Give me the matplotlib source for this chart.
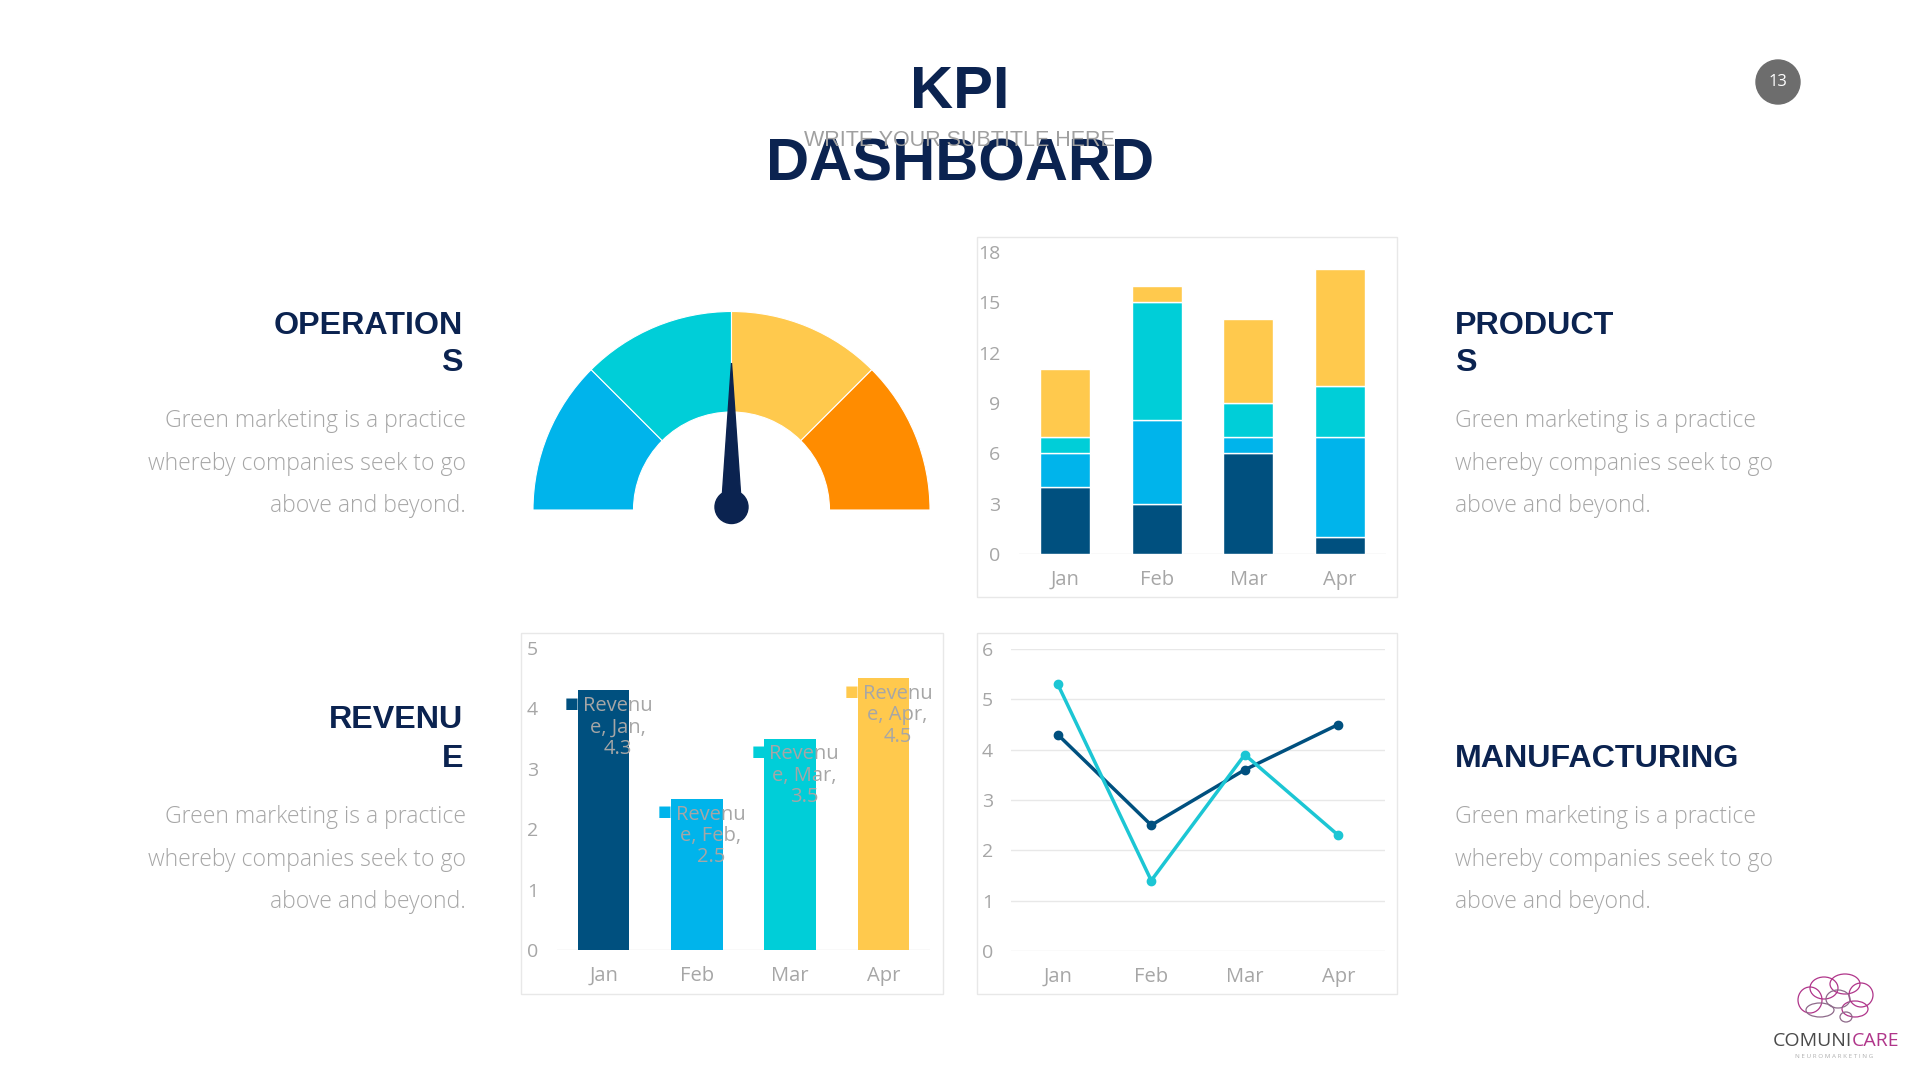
import matplotlib
matplotlib.use("Agg")
import matplotlib.pyplot as plt
from matplotlib.patches import Wedge, Circle, Rectangle, Polygon, Ellipse
import numpy as np

# -----------------------------
# Data
# -----------------------------
months = ["Jan", "Feb", "Mar", "Apr"]

# stacked "products" chart (four series, bottom to top)
prod_series1 = [4, 3, 6, 1]
prod_series2 = [2, 5, 1, 6]
prod_series3 = [1, 7, 2, 3]
prod_series4 = [4, 1, 5, 7]
prod_yticks = [0, 3, 6, 9, 12, 15, 18]

# revenue bar chart
revenue_values = [4.3, 2.5, 3.5, 4.5]
revenue_yticks = [0, 1, 2, 3, 4, 5]

# manufacturing line chart
line_series1 = [4.3, 2.5, 3.6, 4.5]
line_series2 = [5.3, 1.4, 3.9, 2.3]
line_yticks = [0, 1, 2, 3, 4, 5, 6]

# operations gauge (four equal bands, needle value out of 100)
gauge_segments = [25, 25, 25, 25]
gauge_value = 50

body_lines = ["Green marketing is a practice",
              "whereby companies seek to go",
              "above and beyond."]

# -----------------------------
# Style
# -----------------------------
W, H = 1920, 1080
NAVY = "#0B2350"
DARK = "#00507F"
BLUE = "#00B4EB"
CYAN = "#00CED8"
YELLOW = "#FFC94D"
ORANGE = "#FF8C00"
GREY = "#A6A6A6"
FRAME = "#E8E8E8"
TICK_FONT = "Open Sans"
BODY_FONT = "Open Sans"
HEAD_FONT = "Liberation Sans"

fig = plt.figure(figsize=(W / 100, H / 100), dpi=100)
fig.patch.set_facecolor("white")

# background axes in pixel units (y measured from the top via fy)
bg = fig.add_axes([0, 0, 1, 1])
bg.set_xlim(0, W)
bg.set_ylim(0, H)
bg.axis("off")


def fy(y):
    return H - y


def px_axes(left, top, right, bottom):
    ax = fig.add_axes([left / W, 1 - bottom / H, (right - left) / W, (bottom - top) / H])
    ax.set_facecolor("none")
    return ax


def style_axis(ax, yticks, ypad, xpad=11.5):
    for side in ["top", "right", "left", "bottom"]:
        ax.spines[side].set_visible(False)
    ax.set_xticks(range(len(months)))
    ax.set_xticklabels(months, fontfamily=TICK_FONT, fontsize=14.5, color=GREY)
    ax.set_yticks(yticks)
    ax.set_yticklabels([str(t) for t in yticks], fontfamily=TICK_FONT, fontsize=14, color=GREY)
    ax.tick_params(axis="both", length=0)
    ax.tick_params(axis="y", pad=ypad)
    ax.tick_params(axis="x", pad=xpad)
    ax.set_xlim(-0.5, len(months) - 0.5)


def frame(left, top, right, bottom):
    bg.add_patch(Rectangle((left, fy(bottom)), right - left, bottom - top,
                           facecolor="none", edgecolor=FRAME, lw=1.0))


# -----------------------------
# Titles
# -----------------------------
bg.text(959.5, fy(92), "KPI", ha="center", va="center", fontfamily=HEAD_FONT,
        fontweight="bold", fontsize=43, color=NAVY)
bg.text(960, fy(165), "DASHBOARD", ha="center", va="center", fontfamily=HEAD_FONT,
        fontweight="bold", fontsize=43, color=NAVY)
bg.text(959, fy(141), "WRITE YOUR SUBTITLE HERE", ha="center", va="center",
        fontfamily=HEAD_FONT, fontsize=15.5, color="#A0A0A0", zorder=5)

# page badge
bg.add_patch(Circle((1778, fy(82)), 22, color="#6D6D6D"))
bg.text(1778, fy(82), "13", ha="center", va="center", fontfamily=TICK_FONT,
        fontsize=12, color="white")

# -----------------------------
# Side headings and body text
# -----------------------------
def heading(x, ys, lines, ha):
    for y, line in zip(ys, lines):
        bg.text(x, fy(y), line, ha=ha, va="center", fontfamily=HEAD_FONT,
                fontweight="bold", fontsize=23.2, color=NAVY)


def body(x, ys, ha):
    for y, line in zip(ys, body_lines):
        bg.text(x, fy(y), line, ha=ha, va="center", fontfamily=BODY_FONT,
                fontweight="light", fontsize=16.6, color=GREY)


heading(463, [326, 363], ["OPERATION", "S"], "right")
body(466, [421, 464, 506], "right")
heading(1455, [326, 363], ["PRODUCT", "S"], "left")
body(1455, [421, 464, 506], "left")
heading(463, [720, 759], ["REVENU", "E"], "right")
body(466, [817, 860, 902], "right")
heading(1455, [759], ["MANUFACTURING"], "left")
body(1455, [817, 860, 902], "left")

# -----------------------------
# Gauge
# -----------------------------
cx, cy = 731.5, fy(510)
r_out, r_in = 198.5, 98
gauge_colors = [BLUE, CYAN, YELLOW, ORANGE]
total = sum(gauge_segments)
start = 180.0
for seg, col in zip(gauge_segments, gauge_colors):
    sweep = 180.0 * seg / total
    bg.add_patch(Wedge((cx, cy), r_out, start - sweep, start, width=r_out - r_in,
                       facecolor=col, edgecolor="white", lw=0.8))
    start -= sweep

theta = np.pi * (1 - gauge_value / 100)
hub = (cx, cy + 3)
tip = (hub[0] + 144 * np.cos(theta), hub[1] + 144 * np.sin(theta))
nx, ny = -np.sin(theta), np.cos(theta)
bg.add_patch(Polygon([(hub[0] + 10 * nx, hub[1] + 10 * ny), tip,
                      (hub[0] - 10 * nx, hub[1] - 10 * ny)],
                     closed=True, color=NAVY))
bg.add_patch(Circle(hub, 16.5, color=NAVY))

# -----------------------------
# Products: stacked bars
# -----------------------------
frame(977, 237, 1397, 597)
ax1 = px_axes(1019, 252, 1386, 554)
x = np.arange(len(months))
bottom = np.zeros(len(months))
for vals, col in zip([prod_series1, prod_series2, prod_series3, prod_series4],
                     [DARK, BLUE, CYAN, YELLOW]):
    ax1.bar(x, vals, width=0.545, bottom=bottom, color=col, edgecolor="white", lw=1)
    bottom += np.array(vals)
ax1.set_ylim(0, 18)
ax1.axhline(0, color="#E3E3E3", lw=1, zorder=0)
style_axis(ax1, prod_yticks, 13.3)

# -----------------------------
# Revenue: bars with data labels
# -----------------------------
frame(521, 633, 943, 994)
ax2 = px_axes(557, 648, 930, 950)
rev_colors = [DARK, BLUE, CYAN, YELLOW]
ax2.bar(x, revenue_values, width=0.55, color=rev_colors)
ax2.set_ylim(0, 5)
ax2.axhline(0, color="#E3E3E3", lw=1, zorder=0)
style_axis(ax2, revenue_yticks, 13.7)
for i, (m, v) in enumerate(zip(months, revenue_values)):
    ax2.annotate(f"Revenu\ne, {m},\n{v}", xy=(i, v), xytext=(14, -37),
                 textcoords="offset pixels", ha="center", va="center",
                 multialignment="center", fontfamily=TICK_FONT, fontsize=14.5,
                 color=GREY, linespacing=1.1)
    ax2.annotate("\u25A0", xy=(i, v), xytext=(-32, -13), textcoords="offset pixels",
                 ha="center", va="center", fontsize=10.5, color=rev_colors[i])

# -----------------------------
# Manufacturing: lines
# -----------------------------
frame(977, 633, 1397, 994)
ax3 = px_axes(1011, 649, 1385, 951)
ax3.plot(x, line_series1, color=DARK, lw=2.5, marker="o", ms=6, zorder=3)
ax3.plot(x, line_series2, color="#1CC6D4", lw=2.5, marker="o", ms=6, zorder=3)
ax3.set_ylim(0, 6)
ax3.grid(axis="y", color="#E8E8E8", lw=1)
ax3.set_axisbelow(True)
style_axis(ax3, line_yticks, 13)

# -----------------------------
# Logo
# -----------------------------
MAG = "#B0358A"
LOBE = "#8E6A8A"
for (ex, ey, ew, eh, col) in [(1810, 1000, 24, 26, MAG), (1824, 988, 28, 22, MAG),
                              (1845, 984, 30, 20, MAG), (1861, 995, 24, 24, MAG),
                              (1855, 1009, 26, 16, MAG), (1820, 1010, 28, 14, LOBE),
                              (1838, 999, 24, 18, LOBE), (1846, 1017, 12, 10, LOBE)]:
    bg.add_patch(Ellipse((ex, fy(ey)), ew, eh, facecolor="none", edgecolor=col, lw=0.9))
bg.text(1852, fy(1041), "COMUNI", ha="right", va="center", fontfamily=TICK_FONT,
        fontsize=14, color="#4A4A4A")
bg.text(1852, fy(1041), "CARE", ha="left", va="center", fontfamily=TICK_FONT,
        fontsize=14, color=MAG)
bg.text(1834, fy(1056), " ".join("NEUROMARKETING"), ha="center", va="center",
        fontfamily=TICK_FONT, fontsize=4.5, color="#B0B0B0")

fig.savefig("out.png", dpi=100, facecolor="white")
